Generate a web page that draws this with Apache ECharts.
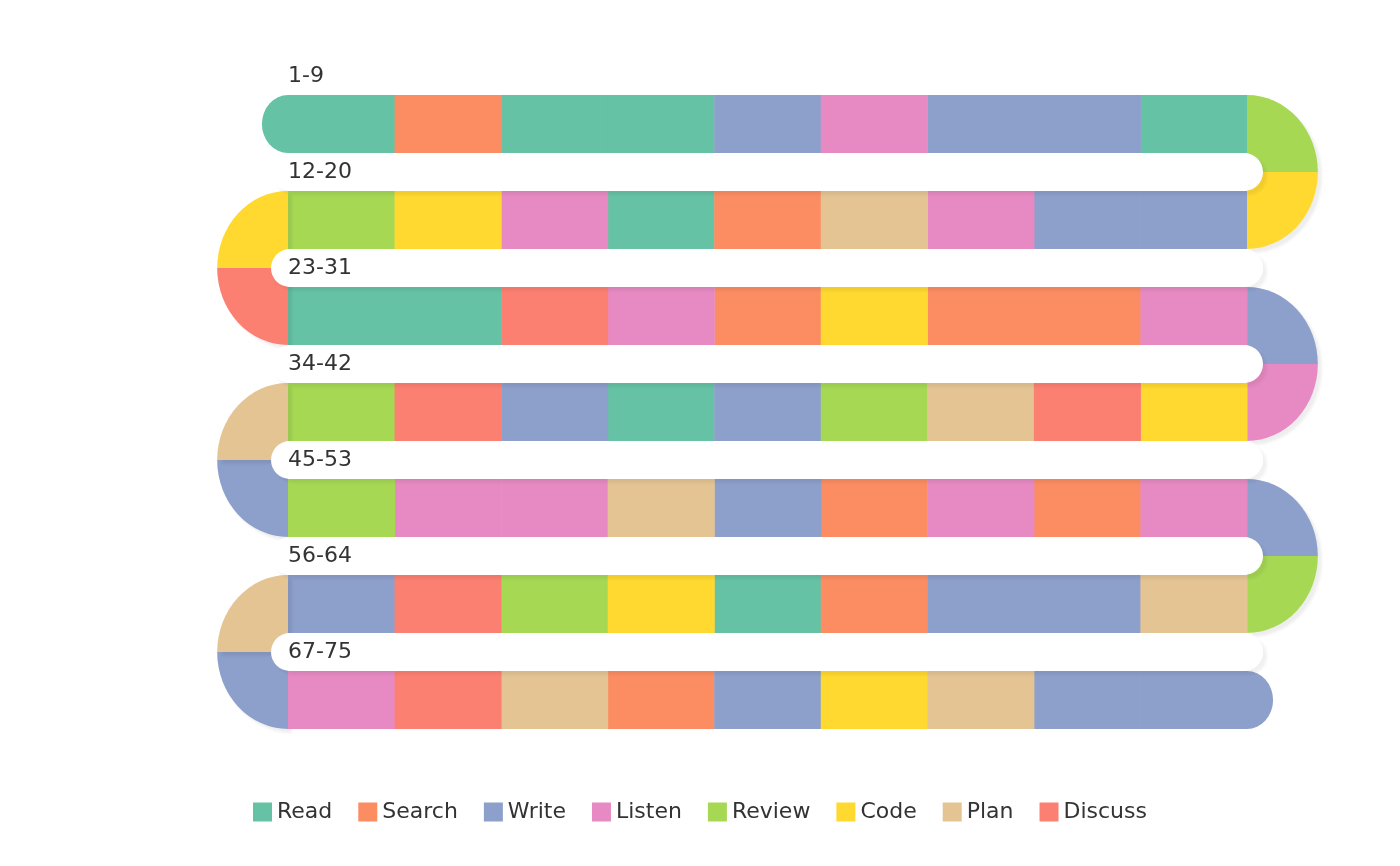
<!DOCTYPE html>
<html lang="en">
<head>
    <meta charset="UTF-8">
    <title>Activity snake</title>
    <style>html,body{margin:0;padding:0;background:#fff;}</style>
</head>
<body>
<script src="https://cdn.jsdelivr.net/npm/echarts@6/dist/echarts.min.js"></script>
<div id="main" style="width:1400px;height:866px;"></div>
<script type="text/javascript">
    var categories = ['Read', 'Search', 'Write', 'Listen', 'Review', 'Code', 'Plan', 'Discuss'];
    var colors = ['#66c2a5', '#fc8d62', '#8da0cb', '#e78ac3', '#a6d854', '#ffd92f', '#e5c494', '#fc8072'];
    var rowLabels = ['1-9', '12-20', '23-31', '34-42', '45-53', '56-64', '67-75'];
    // cells of each row, left to right
    var rowCells = [
        ['Read', 'Search', 'Read', 'Read', 'Write', 'Listen', 'Write', 'Write', 'Read'],
        ['Review', 'Code', 'Listen', 'Read', 'Search', 'Plan', 'Listen', 'Write', 'Write'],
        ['Read', 'Read', 'Discuss', 'Listen', 'Search', 'Code', 'Search', 'Search', 'Listen'],
        ['Review', 'Discuss', 'Write', 'Read', 'Write', 'Review', 'Plan', 'Discuss', 'Code'],
        ['Review', 'Listen', 'Listen', 'Plan', 'Write', 'Search', 'Listen', 'Search', 'Listen'],
        ['Write', 'Discuss', 'Review', 'Code', 'Read', 'Search', 'Write', 'Write', 'Plan'],
        ['Listen', 'Discuss', 'Plan', 'Search', 'Write', 'Code', 'Plan', 'Write', 'Write']
    ];
    // turns between rows: [upper half, lower half]
    var turns = [
        ['Review', 'Code'], ['Code', 'Discuss'], ['Write', 'Listen'],
        ['Plan', 'Write'], ['Write', 'Review'], ['Plan', 'Write']
    ];
    var startCap = 'Read';
    var endCap = 'Write';

    var ROW_H = 0.604;   // row height in axis units (one unit = row pitch)
    var GAP = 1 - ROW_H;

    function seriesData(cat) {
        var d = [];
        rowCells.forEach(function (row, r) {
            row.forEach(function (c, i) { if (c === cat) d.push([0, i, r, 0]); });
        });
        turns.forEach(function (t, j) {
            if (t[0] === cat) d.push([1, j, 0, 0]);
            if (t[1] === cat) d.push([1, j, 1, 0]);
        });
        if (startCap === cat) d.push([2, 0, 0, 0]);
        if (endCap === cat) d.push([3, 6, 0, 0]);
        return d;
    }

    function renderShape(params, api) {
        var kind = api.value(0), a = api.value(1), b = api.value(2);
        var color = api.visual('color');
        if (kind === 0) {
            var p0 = api.coord([a, b]);
            var p1 = api.coord([a + 1, b + ROW_H]);
            return {type: 'rect', shape: {x: p0[0], y: p0[1], width: p1[0] - p0[0] + 0.5, height: p1[1] - p0[1]},
                style: {fill: color}};
        }
        if (kind === 1) {
            var right = a % 2 === 0;
            var c = api.coord([right ? 9 : 0, a + ROW_H + GAP / 2]);
            var r = api.size([0, ROW_H + GAP / 2])[1];
            var s, e;
            if (right) { s = b === 0 ? -Math.PI / 2 : 0; e = b === 0 ? 0 : Math.PI / 2; }
            else { s = b === 0 ? Math.PI : Math.PI / 2; e = b === 0 ? Math.PI * 1.5 : Math.PI; }
            return {type: 'sector', shape: {cx: c[0], cy: c[1], r0: 0, r: r, startAngle: s, endAngle: e, clockwise: true},
                scaleX: 0.92, originX: c[0], originY: c[1],
                style: {fill: color, shadowColor: 'rgba(0,0,0,0.07)', shadowOffsetX: 4, shadowOffsetY: 4, shadowBlur: 3}};
        }
        var left = kind === 2;
        var cc = api.coord([left ? 0 : 9, a + ROW_H / 2]);
        var rr = api.size([0, ROW_H / 2])[1];
        return {type: 'sector', shape: {cx: cc[0], cy: cc[1], r0: 0, r: rr,
                startAngle: left ? Math.PI / 2 : -Math.PI / 2, endAngle: left ? Math.PI * 1.5 : Math.PI / 2, clockwise: true},
            scaleX: 0.9, originX: cc[0], originY: cc[1],
            style: {fill: color}};
    }

    var series = categories.map(function (cat, k) {
        return {name: cat, type: 'custom', renderItem: renderShape, data: seriesData(cat),
            itemStyle: {color: colors[k]}, z: 2};
    });

    // white gaps between rows, with labels
    var pillData = rowLabels.map(function (l, i) { return [i, l]; });
    series.push({
        type: 'custom', name: 'gaps', z: 5, silent: true, data: pillData,
        renderItem: function (params, api) {
            var i = api.value(0);
            var children = [];
            if (i > 0) {
                var p0 = api.coord([0, i - GAP]);
                var p1 = api.coord([9, i]);
                var h = p1[1] - p0[1];
                children.push({type: 'rect', shape: {x: p0[0] - 17, y: p0[1], width: p1[0] - p0[0] + 33, height: h, r: h / 2},
                    style: {fill: '#fff', shadowColor: 'rgba(0,0,0,0.06)', shadowOffsetX: 4, shadowOffsetY: 4, shadowBlur: 3}});
            }
            var t = api.coord([0, i - GAP / 2]);
            children.push({type: 'text', style: {x: t[0], y: t[1], text: rowLabels[i], fill: '#333',
                font: '22px "DejaVu Sans", sans-serif', verticalAlign: 'middle', align: 'left'}});
            return {type: 'group', children: children};
        }
    });

    var myChart = echarts.init(document.getElementById('main'));
    myChart.setOption({
        animation: false,
        grid: {left: 288, right: 153, top: 95, bottom: 99},
        xAxis: {type: 'value', min: 0, max: 9, show: false},
        yAxis: {type: 'value', min: 0, max: 7, inverse: true, show: false},
        legend: {
            data: categories, bottom: 38, left: 'center', icon: 'rect',
            itemWidth: 19, itemHeight: 19, itemGap: 26,
            textStyle: {fontSize: 22, color: '#333', fontFamily: 'DejaVu Sans'}
        },
        series: series
    });
</script>
</body>
</html>
